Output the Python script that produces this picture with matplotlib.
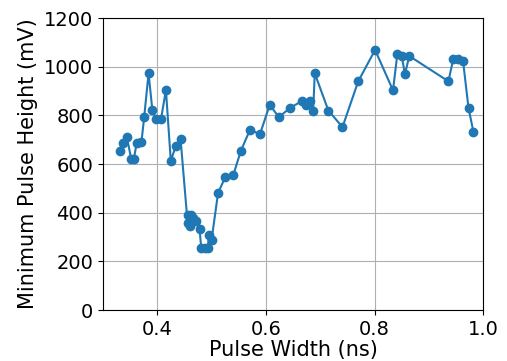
import matplotlib
matplotlib.use("Agg")
import matplotlib.pyplot as plt

# pulse width (ns) vs minimum pulse height (mV)
width = [0.332, 0.337, 0.344, 0.352, 0.357, 0.362, 0.371, 0.376, 0.384, 0.391,
         0.398, 0.407, 0.416, 0.425, 0.434, 0.443, 0.456, 0.460, 0.457, 0.463,
         0.466, 0.472, 0.478, 0.481, 0.487, 0.493, 0.495, 0.500, 0.512, 0.525,
         0.540, 0.554, 0.571, 0.589, 0.607, 0.624, 0.644, 0.667, 0.673, 0.681,
         0.687, 0.690, 0.715, 0.741, 0.770, 0.801, 0.834, 0.842, 0.850, 0.856,
         0.864, 0.936, 0.945, 0.954, 0.963, 0.973, 0.982]
height = [655, 685, 712, 622, 622, 685, 692, 794, 973, 822,
          786, 786, 904, 612, 675, 701, 356, 345, 390, 390,
          380, 365, 332, 254, 254, 254, 308, 288, 482, 545,
          555, 655, 742, 722, 843, 793, 830, 860, 843, 860,
          820, 973, 820, 752, 940, 1069, 903, 1052, 1044, 970,
          1044, 940, 1032, 1032, 1023, 830, 733]

fig = plt.figure(figsize=(5.07, 3.61), dpi=100)
ax = fig.add_axes([0.203, 0.141, 0.750, 0.809])
ax.plot(width, height, "o-", color="#1f77b4", lw=1.5, ms=6)
ax.set_xlim(0.3, 1.0)
ax.set_ylim(0, 1200)
ax.set_xticks([0.4, 0.6, 0.8, 1.0])
ax.set_yticks(range(0, 1201, 200))
ax.tick_params(labelsize=14)
ax.set_xlabel("Pulse Width (ns)", fontsize=15, labelpad=1)
ax.set_ylabel("Minimum Pulse Height (mV)", fontsize=15)
ax.grid(True)
fig.savefig("out.png", dpi=100)
